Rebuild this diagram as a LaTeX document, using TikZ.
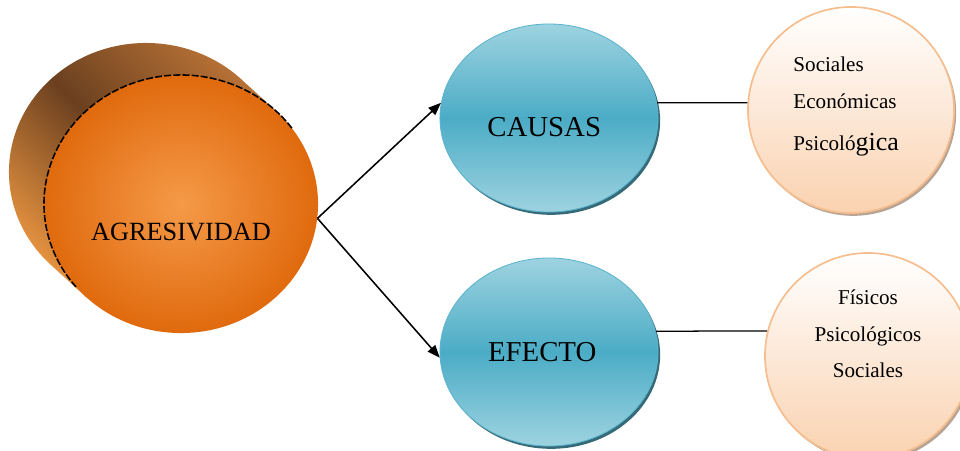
\documentclass[tikz,border=0pt]{standalone}
\usepackage{fontspec}
\setmainfont{Liberation Serif}
\usetikzlibrary{shapes,shadows,calc,arrows.meta}
\definecolor{tealtop}{HTML}{9ED3E0}
\definecolor{tealmid}{HTML}{4BACC6}
\definecolor{tealedge}{HTML}{5BB4CC}
\definecolor{tealshadow}{HTML}{205A6A}
\definecolor{peachbot}{HTML}{FAD2B0}
\definecolor{peachedge}{HTML}{F6BE8E}
\definecolor{orangein}{HTML}{F59A48}
\definecolor{orangeout}{HTML}{E06A0E}
\definecolor{brownhi}{HTML}{B87236}
\definecolor{browndark}{HTML}{6B401F}
\definecolor{brownlo}{HTML}{E89440}

\begin{document}
\begin{tikzpicture}[x=0.025cm, y=-0.025cm]
\tikzstyle{core}=[ellipse, inner sep=0pt, minimum width=6.85cm, minimum height=6.45cm, inner color=orangein, outer color=orangeout];
\tikzstyle{bigtxt}=[font=\fontsize{20.5}{24}\selectfont];
\tikzstyle{smalltxt}=[font=\fontsize{15}{26}\selectfont];
\tikzstyle{branch}=[ellipse, inner sep=0pt, minimum width=5.45cm, minimum height=4.7cm, draw=tealedge, line width=0.6pt, top color=tealtop, bottom color=tealtop, middle color=tealmid, drop shadow={shadow xshift=1.5pt, shadow yshift=-2pt, fill=tealshadow, opacity=0.9}];
\tikzstyle{bubble}=[circle, inner sep=0pt, minimum size=5.15cm, draw=peachedge, line width=1.2pt, top color=white, bottom color=peachbot, drop shadow={shadow xshift=1.5pt, shadow yshift=-2pt, fill=black!45!peachedge, opacity=0.6}];
\useasboundingbox (0,0) rectangle (960,450);

% back of the cylinder
\coordinate (agrc) at (181,204);
\shade[top color=brownhi, bottom color=brownlo, middle color=browndark, shading angle=-45]
  ($(agrc)+(46:3.425cm and 3.225cm)$) -- ++(-35,-32)
  arc[start angle=46, end angle=226, x radius=3.425cm, y radius=3.225cm] -- ++(35,32) -- cycle;

\node[core, label={[font=\fontsize{18.7}{22}\selectfont, yshift=-0.7cm]center:AGRESIVIDAD}] (agr) at (agrc) {};
\draw[black, line width=1.1pt, dash pattern=on 5pt off 1.5pt]
  ($(agr.center)+(36:3.425cm and 3.225cm)$) arc[start angle=36, end angle=220, x radius=3.425cm, y radius=3.225cm];

\node[branch, label={[bigtxt, xshift=-0.12cm, yshift=-0.22cm]center:CAUSAS}] (causas) at (549,118) {};
\node[branch, label={[bigtxt, xshift=-0.17cm]center:EFECTO}] (efecto) at (549,352) {};

\node[bubble, label={[smalltxt, align=left, xshift=-0.12cm, yshift=0.08cm]center:Sociales\\Económicas\\[4pt]Psicoló{\fontsize{18.5}{26}\selectfont gica}}] (causasbub) at (851,110) {};
\node[bubble, label={[smalltxt, align=center, yshift=0.55cm]center:Físicos\\Psicológicos\\Sociales}] (efectobub) at (868,356) {};

\draw[-{Triangle[length=9pt,width=7pt]}, line width=1.1pt] (agr.-6) -- (causas.172);
\draw[-{Triangle[length=9pt,width=7pt]}, line width=1.1pt] (agr.-6) -- (efecto.183);
\draw[line width=0.9pt] (causas.8) -- (causasbub.176);
\draw[line width=0.9pt] (efecto.11) -- (efectobub.166);
\end{tikzpicture}
\end{document}
